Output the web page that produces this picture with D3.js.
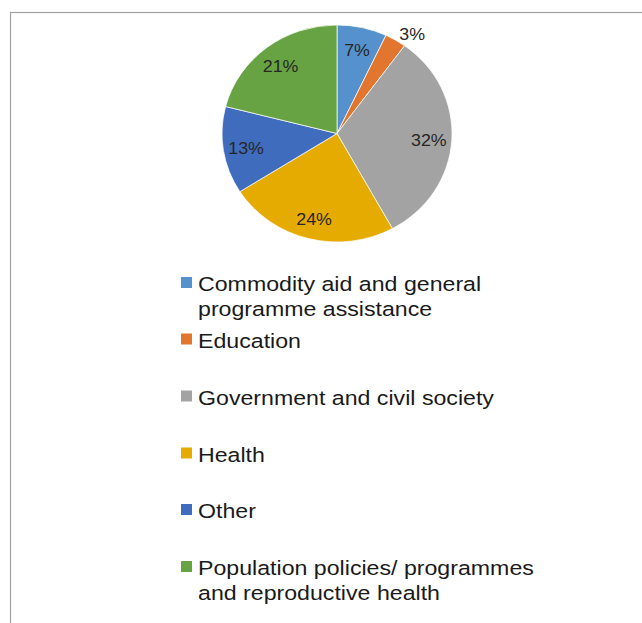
<!DOCTYPE html>
<html>
<head>
<meta charset="utf-8">
<script src="https://cdn.jsdelivr.net/npm/d3@7/dist/d3.min.js"></script>
<style>
  html, body { margin: 0; padding: 0; background: #fff; }
  svg { display: block; }
</style>
</head>
<body>
<svg id="chart" width="642" height="623"></svg>
<script>
// Sectors of aid allocation, share of total (%)
const categories = [
  "Commodity aid and general programme assistance",
  "Education",
  "Government and civil society",
  "Health",
  "Other",
  "Population policies/ programmes and reproductive health"
];
const shares = [7, 3, 32, 24, 13, 21];
const colors = ["#5592cd", "#e2762f", "#a3a3a3", "#e6ab00", "#3f6cbd", "#67a342"];
// Legend entries wrapped onto lines
const legendLines = [
  ["Commodity aid and general", "programme assistance"],
  ["Education"],
  ["Government and civil society"],
  ["Health"],
  ["Other"],
  ["Population policies/ programmes", "and reproductive health"]
];

const svg = d3.select("#chart");

// Chart frame (top and left edges fall inside the page)
svg.append("rect")
  .attr("x", 10.5).attr("y", 12.5)
  .attr("width", 700).attr("height", 700)
  .attr("fill", "none")
  .attr("stroke", "#a2a2a2")
  .attr("stroke-width", 1.2);

const data = categories.map((c, i) => ({ name: c, value: shares[i], color: colors[i] }));

const cx = 337, cy = 133.5, r = 108.5, sx = 1.06;

const pie = d3.pie().value(d => d.value).sort(null);
const arcs = pie(data);
const arc = d3.arc().innerRadius(0).outerRadius(r);

const pieG = svg.append("g")
  .attr("transform", `translate(${cx},${cy}) scale(${sx},1)`);

pieG.selectAll("path")
  .data(arcs)
  .join("path")
  .attr("d", arc)
  .attr("fill", d => d.data.color)
  .attr("stroke", "#ffffff")
  .attr("stroke-width", 0.7);

// Percentage labels: inside for larger slices, outside for tiny ones
const small = d => d.data.value < 5;
const labelPos = d => {
  const a = (d.startAngle + d.endAngle) / 2;
  const k = small(d) ? 1.08 : 0.8;
  return [cx + Math.sin(a) * r * k * sx + (small(d) ? 12 : 0), cy - Math.cos(a) * r * k];
};
svg.append("g")
  .selectAll("text")
  .data(arcs)
  .join("text")
  .attr("transform", d => {
    const [x, y] = labelPos(d);
    return `translate(${x},${y}) scale(1.08,1)`;
  })
  .attr("dy", "0.42em")
  .attr("text-anchor", "middle")
  .attr("font-family", "Liberation Sans, Arial, sans-serif")
  .attr("font-size", 16.5)
  .attr("fill", "#262626")
  .text(d => `${d.data.value}%`);

// Legend
const baselines = [291, 347.5, 404.5, 461.5, 518, 575];
const lineH = 25;
const legend = svg.append("g")
  .attr("font-family", "Liberation Sans, Arial, sans-serif")
  .attr("font-size", 20.5)
  .attr("fill", "#1a1a1a");

const items = legend.selectAll("g")
  .data(data)
  .join("g")
  .attr("transform", (d, i) => `translate(0,${baselines[i]})`);

items.append("rect")
  .attr("x", 181).attr("y", -14)
  .attr("width", 11).attr("height", 11)
  .attr("fill", d => d.color);

items.each(function (d, i) {
  const t = d3.select(this).append("text")
    .attr("transform", "translate(198,0) scale(1.13,1)");
  legendLines[i].forEach((ln, j) => {
    t.append("tspan").attr("x", 0).attr("y", j * lineH).text(ln);
  });
});
</script>
</body>
</html>
